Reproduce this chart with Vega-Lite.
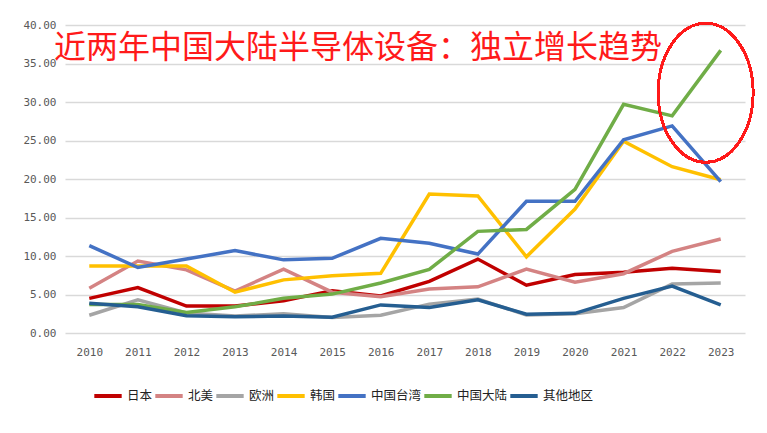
{
  "$schema": "https://vega.github.io/schema/vega-lite/v6.json",
  "width": 680,
  "height": 308,
  "autosize": "none",
  "padding": {"left": 65, "top": 25, "right": 22, "bottom": 100},
  "background": "white",
  "config": {
    "font": "Noto Sans CJK SC",
    "view": {"stroke": null},
    "axis": {"labelFont": "DejaVu Sans Mono", "labelColor": "#595959", "labelFontSize": 11, "labelOverlap": false}
  },
  "title": {
    "text": "近两年中国大陆半导体设备：独立增长趋势",
    "anchor": "start",
    "frame": "group",
    "orient": "top",
    "baseline": "bottom",
    "offset": -38,
    "dx": -11,
    "dy": 40,
    "fontSize": 32,
    "fontWeight": "normal",
    "color": "#ff1a1a",
    "font": "Noto Sans CJK SC"
  },
  "data": {
    "values": [
      {"year": 2010, "region": "日本", "value": 4.5},
      {"year": 2011, "region": "日本", "value": 5.9},
      {"year": 2012, "region": "日本", "value": 3.5},
      {"year": 2013, "region": "日本", "value": 3.5},
      {"year": 2014, "region": "日本", "value": 4.2},
      {"year": 2015, "region": "日本", "value": 5.5},
      {"year": 2016, "region": "日本", "value": 4.8},
      {"year": 2017, "region": "日本", "value": 6.7},
      {"year": 2018, "region": "日本", "value": 9.6},
      {"year": 2019, "region": "日本", "value": 6.2},
      {"year": 2020, "region": "日本", "value": 7.6},
      {"year": 2021, "region": "日本", "value": 7.9},
      {"year": 2022, "region": "日本", "value": 8.4},
      {"year": 2023, "region": "日本", "value": 8.0},
      {"year": 2010, "region": "北美", "value": 5.8},
      {"year": 2011, "region": "北美", "value": 9.35},
      {"year": 2012, "region": "北美", "value": 8.2},
      {"year": 2013, "region": "北美", "value": 5.45},
      {"year": 2014, "region": "北美", "value": 8.3},
      {"year": 2015, "region": "北美", "value": 5.3},
      {"year": 2016, "region": "北美", "value": 4.7},
      {"year": 2017, "region": "北美", "value": 5.7},
      {"year": 2018, "region": "北美", "value": 6.0},
      {"year": 2019, "region": "北美", "value": 8.3},
      {"year": 2020, "region": "北美", "value": 6.6},
      {"year": 2021, "region": "北美", "value": 7.7},
      {"year": 2022, "region": "北美", "value": 10.6},
      {"year": 2023, "region": "北美", "value": 12.2},
      {"year": 2010, "region": "欧洲", "value": 2.3},
      {"year": 2011, "region": "欧洲", "value": 4.3},
      {"year": 2012, "region": "欧洲", "value": 2.6},
      {"year": 2013, "region": "欧洲", "value": 2.2},
      {"year": 2014, "region": "欧洲", "value": 2.5},
      {"year": 2015, "region": "欧洲", "value": 2.0},
      {"year": 2016, "region": "欧洲", "value": 2.3},
      {"year": 2017, "region": "欧洲", "value": 3.75},
      {"year": 2018, "region": "欧洲", "value": 4.4},
      {"year": 2019, "region": "欧洲", "value": 2.35},
      {"year": 2020, "region": "欧洲", "value": 2.5},
      {"year": 2021, "region": "欧洲", "value": 3.3},
      {"year": 2022, "region": "欧洲", "value": 6.35},
      {"year": 2023, "region": "欧洲", "value": 6.5},
      {"year": 2010, "region": "韩国", "value": 8.7},
      {"year": 2011, "region": "韩国", "value": 8.7},
      {"year": 2012, "region": "韩国", "value": 8.7},
      {"year": 2013, "region": "韩国", "value": 5.3},
      {"year": 2014, "region": "韩国", "value": 6.9},
      {"year": 2015, "region": "韩国", "value": 7.45},
      {"year": 2016, "region": "韩国", "value": 7.75},
      {"year": 2017, "region": "韩国", "value": 18.05},
      {"year": 2018, "region": "韩国", "value": 17.8},
      {"year": 2019, "region": "韩国", "value": 9.9},
      {"year": 2020, "region": "韩国", "value": 16.1},
      {"year": 2021, "region": "韩国", "value": 24.9},
      {"year": 2022, "region": "韩国", "value": 21.6},
      {"year": 2023, "region": "韩国", "value": 19.9},
      {"year": 2010, "region": "中国台湾", "value": 11.35},
      {"year": 2011, "region": "中国台湾", "value": 8.5},
      {"year": 2012, "region": "中国台湾", "value": 9.6},
      {"year": 2013, "region": "中国台湾", "value": 10.7},
      {"year": 2014, "region": "中国台湾", "value": 9.5},
      {"year": 2015, "region": "中国台湾", "value": 9.7},
      {"year": 2016, "region": "中国台湾", "value": 12.3},
      {"year": 2017, "region": "中国台湾", "value": 11.65},
      {"year": 2018, "region": "中国台湾", "value": 10.25},
      {"year": 2019, "region": "中国台湾", "value": 17.1},
      {"year": 2020, "region": "中国台湾", "value": 17.1},
      {"year": 2021, "region": "中国台湾", "value": 25.1},
      {"year": 2022, "region": "中国台湾", "value": 26.9},
      {"year": 2023, "region": "中国台湾", "value": 19.65},
      {"year": 2010, "region": "中国大陆", "value": 3.7},
      {"year": 2011, "region": "中国大陆", "value": 3.7},
      {"year": 2012, "region": "中国大陆", "value": 2.65},
      {"year": 2013, "region": "中国大陆", "value": 3.4},
      {"year": 2014, "region": "中国大陆", "value": 4.5},
      {"year": 2015, "region": "中国大陆", "value": 5.05},
      {"year": 2016, "region": "中国大陆", "value": 6.5},
      {"year": 2017, "region": "中国大陆", "value": 8.25},
      {"year": 2018, "region": "中国大陆", "value": 13.2},
      {"year": 2019, "region": "中国大陆", "value": 13.45},
      {"year": 2020, "region": "中国大陆", "value": 18.65},
      {"year": 2021, "region": "中国大陆", "value": 29.7},
      {"year": 2022, "region": "中国大陆", "value": 28.2},
      {"year": 2023, "region": "中国大陆", "value": 36.7},
      {"year": 2010, "region": "其他地区", "value": 3.85},
      {"year": 2011, "region": "其他地区", "value": 3.4},
      {"year": 2012, "region": "其他地区", "value": 2.25},
      {"year": 2013, "region": "其他地区", "value": 2.1},
      {"year": 2014, "region": "其他地区", "value": 2.2},
      {"year": 2015, "region": "其他地区", "value": 2.05},
      {"year": 2016, "region": "其他地区", "value": 3.65},
      {"year": 2017, "region": "其他地区", "value": 3.3},
      {"year": 2018, "region": "其他地区", "value": 4.3},
      {"year": 2019, "region": "其他地区", "value": 2.45},
      {"year": 2020, "region": "其他地区", "value": 2.55},
      {"year": 2021, "region": "其他地区", "value": 4.5},
      {"year": 2022, "region": "其他地区", "value": 6.1},
      {"year": 2023, "region": "其他地区", "value": 3.65}
    ]
  },
  "layer": [
    {
      "mark": {"type": "line", "strokeWidth": 3.5, "strokeJoin": "miter"},
      "encoding": {
        "x": {
          "field": "year",
          "type": "quantitative",
          "scale": {"domain": [2009.5, 2023.5], "nice": false, "zero": false},
          "axis": {
            "title": null,
            "values": [2010, 2011, 2012, 2013, 2014, 2015, 2016, 2017, 2018, 2019, 2020, 2021, 2022, 2023],
            "tickCount": 20,
            "format": "d",
            "grid": false,
            "domain": false,
            "ticks": false,
            "labelPadding": 13
          }
        },
        "y": {
          "field": "value",
          "type": "quantitative",
          "scale": {"domain": [0, 40], "nice": false},
          "axis": {
            "title": null,
            "values": [0, 5, 10, 15, 20, 25, 30, 35, 40],
            "tickCount": 10,
            "format": ".2f",
            "domain": false,
            "ticks": false,
            "labelPadding": 9,
            "gridColor": "#d9d9d9",
            "gridWidth": 1.5
          }
        },
        "color": {
          "field": "region",
          "type": "nominal",
          "sort": ["日本", "北美", "欧洲", "韩国", "中国台湾", "中国大陆", "其他地区"],
          "scale": {
            "domain": ["日本", "北美", "欧洲", "韩国", "中国台湾", "中国大陆", "其他地区"],
            "range": ["#c00000", "#d48383", "#a5a5a5", "#ffc000", "#4472c4", "#70ad47", "#255e91"]
          },
          "legend": {
            "title": null,
            "orient": "none",
            "direction": "horizontal",
            "legendX": 27,
            "legendY": 355,
            "symbolType": "stroke",
            "symbolSize": 750,
            "symbolStrokeWidth": 4,
            "labelFontSize": 12.5,
            "labelColor": "#222222",
            "labelFont": "Noto Sans CJK SC",
            "labelOffset": 3,
            "columnPadding": -12
          }
        },
        "order": {"field": "year"}
      }
    },
    {
      "mark": {
        "type": "point",
        "shape": "M -0.683 0 A 0.683 1 0 1 1 0.683 0 A 0.683 1 0 1 1 -0.683 0 Z",
        "size": 19321,
        "filled": false,
        "stroke": "#ff1a1a",
        "strokeWidth": 2,
        "opacity": 1
      },
      "encoding": {
        "x": {"datum": 2022.69},
        "y": {"datum": 31.2}
      }
    }
  ]
}
